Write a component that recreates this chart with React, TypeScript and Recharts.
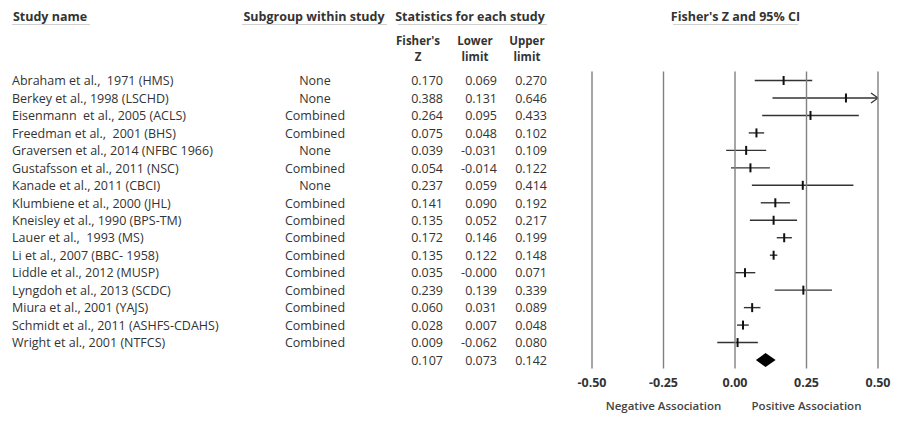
import React from 'react';
import { ComposedChart, Bar, XAxis, YAxis, ReferenceLine } from 'recharts';

const studyNames = [
  'Abraham et al.,  1971 (HMS)',
  'Berkey et al., 1998 (LSCHD)',
  'Eisenmann  et al., 2005 (ACLS)',
  'Freedman et al.,  2001 (BHS)',
  'Graversen et al., 2014 (NFBC 1966)',
  'Gustafsson et al., 2011 (NSC)',
  'Kanade et al., 2011 (CBCI)',
  'Klumbiene et al., 2000 (JHL)',
  'Kneisley et al., 1990 (BPS-TM)',
  'Lauer et al.,  1993 (MS)',
  'Li et al., 2007 (BBC- 1958)',
  'Liddle et al., 2012 (MUSP)',
  'Lyngdoh et al., 2013 (SCDC)',
  'Miura et al., 2001 (YAJS)',
  'Schmidt et al., 2011 (ASHFS-CDAHS)',
  'Wright et al., 2001 (NTFCS)',
];

const subgroups = [
  'None', 'None', 'Combined', 'Combined', 'None', 'Combined', 'None', 'Combined',
  'Combined', 'Combined', 'Combined', 'Combined', 'Combined', 'Combined', 'Combined', 'Combined',
];

const fisherZ = [0.170, 0.388, 0.264, 0.075, 0.039, 0.054, 0.237, 0.141, 0.135, 0.172, 0.135, 0.035, 0.239, 0.060, 0.028, 0.009];
const lowerLimits = [0.069, 0.131, 0.095, 0.048, -0.031, -0.014, 0.059, 0.090, 0.052, 0.146, 0.122, -0.000, 0.139, 0.031, 0.007, -0.062];
const upperLimits = [0.270, 0.646, 0.433, 0.102, 0.109, 0.122, 0.414, 0.192, 0.217, 0.199, 0.148, 0.071, 0.339, 0.089, 0.048, 0.080];

// pooled estimate: z, lower, upper
const summaryStats = [0.107, 0.073, 0.142];

const xTicks = [-0.5, -0.25, 0, 0.25, 0.5];
const xDomain: [number, number] = [-0.5, 0.5];

const fmt = (v: number) => (v === 0 && 1 / v < 0 ? '-0.000' : v.toFixed(3));

const rows = [
  ...studyNames.map((name, i) => ({
    key: `r${i}`,
    name,
    subgroup: subgroups[i],
    z: fisherZ[i],
    lower: lowerLimits[i],
    upper: upperLimits[i],
    range: [Math.max(lowerLimits[i], xDomain[0]), Math.min(upperLimits[i], xDomain[1])],
    clipRight: upperLimits[i] > xDomain[1],
    isSummary: false,
  })),
  {
    key: 'summary',
    name: '',
    subgroup: '',
    z: summaryStats[0],
    lower: summaryStats[1],
    upper: summaryStats[2],
    range: [summaryStats[1], summaryStats[2]],
    clipRight: false,
    isSummary: true,
  },
];

const FONT = '"Open Sans", sans-serif';
const textProps = { fontFamily: FONT, fontSize: 12.5, fill: '#333', xmlSpace: 'preserve', style: { whiteSpace: 'pre' } } as any;

const ForestMark = (props: any) => {
  const { x, y, width, height, payload } = props;
  const cy = y + height / 2;
  const [lo, hi] = payload.range;
  const px = x + (width * (payload.z - lo)) / (hi - lo);
  if (payload.isSummary) {
    return (
      <polygon
        points={`${x},${cy} ${px},${cy - 7} ${x + width},${cy} ${px},${cy + 7}`}
        fill="#000"
      />
    );
  }
  const right = x + width;
  return (
    <g>
      <line x1={x} x2={right} y1={cy} y2={cy} stroke="#333" strokeWidth={1.4} />
      <line x1={px} x2={px} y1={cy - 4.5} y2={cy + 4.5} stroke="#111" strokeWidth={2} />
      {payload.clipRight && (
        <polyline
          points={`${right - 7},${cy - 5} ${right},${cy} ${right - 7},${cy + 5}`}
          fill="none"
          stroke="#333"
          strokeWidth={1.2}
        />
      )}
    </g>
  );
};

const RowTick = (props: any) => {
  const { y, payload } = props;
  const row = rows.find((r) => r.key === payload.value);
  if (!row) return null;
  return (
    <g>
      <text x={12} y={y} dy={5} {...textProps}>{row.name}</text>
      <text x={315} y={y} dy={5} textAnchor="middle" {...textProps}>{row.subgroup}</text>
      <text x={443} y={y} dy={5} textAnchor="end" {...textProps}>{fmt(row.z)}</text>
      <text x={497} y={y} dy={5} textAnchor="end" {...textProps}>{fmt(row.lower)}</text>
      <text x={547} y={y} dy={5} textAnchor="end" {...textProps}>{fmt(row.upper)}</text>
    </g>
  );
};

const AxisTick = (props: any) => {
  const { x, y, payload } = props;
  const v = payload.value as number;
  const assoc = v === -0.25 ? 'Negative Association' : v === 0.25 ? 'Positive Association' : null;
  return (
    <g>
      <text x={x} y={y} dy={10} textAnchor="middle" fontFamily={FONT} fontSize={12.5} fontWeight={700} fill="#333">
        {v.toFixed(2)}
      </text>
      {assoc && (
        <text x={x} y={y} dy={33} textAnchor="middle" fontFamily={FONT} fontSize={11.5} fontWeight={600} fill="#444">
          {assoc}
        </text>
      )}
    </g>
  );
};

const headerStyle: React.CSSProperties = {
  position: 'absolute',
  fontFamily: FONT,
  fontSize: 12.5,
  fontWeight: 700,
  color: '#333',
  whiteSpace: 'nowrap',
  lineHeight: '17px',
  textAlign: 'center',
  transform: 'translateX(-50%)',
};

const subHeaderStyle: React.CSSProperties = { ...headerStyle, fontSize: 11.5, lineHeight: '16px' };

const Header = ({ text, cx, top, underline }: { text: string; cx: number; top: number; underline?: [number, number] }) => (
  <>
    <div style={{ ...headerStyle, left: cx, top }}>{text}</div>
    {underline && (
      <div
        style={{
          position: 'absolute',
          left: underline[0],
          top: top + 16,
          width: underline[1] - underline[0],
          height: 0,
          borderTop: '1px solid #d0d0d0',
        }}
      />
    )}
  </>
);

const SubHeader = ({ top, bottom, cx }: { top: string; bottom: string; cx: number }) => (
  <>
    <div style={{ ...subHeaderStyle, left: cx, top: 33 }}>{top}</div>
    <div style={{ ...subHeaderStyle, left: cx, top: 49 }}>{bottom}</div>
  </>
);

export default function App() {
  return (
    <div style={{ position: 'absolute', left: 0, top: 0, width: 909, height: 428, background: '#fff' }}>
      <ComposedChart
        width={909}
        height={428}
        data={rows}
        layout="vertical"
        margin={{ top: 71.5, right: 31, bottom: 0, left: 0 }}
      >
        <XAxis
          type="number"
          domain={xDomain}
          ticks={xTicks}
          allowDataOverflow
          axisLine={false}
          tickLine={false}
          height={59.5}
          tick={<AxisTick />}
        />
        <YAxis
          type="category"
          dataKey="key"
          width={592}
          axisLine={false}
          tickLine={false}
          interval={0}
          tick={<RowTick />}
        />
        {xTicks.map((t) => (
          <ReferenceLine key={t} x={t} stroke="#808080" strokeWidth={1.4} />
        ))}
        <Bar dataKey="range" barSize={10} shape={<ForestMark />} isAnimationActive={false} />
      </ComposedChart>

      <Header text="Study name" cx={50} top={8} underline={[12, 90]} />
      <Header text="Subgroup within study" cx={314} top={8} underline={[242, 387]} />
      <Header text="Statistics for each study" cx={470} top={8} underline={[398, 547]} />
      <Header text="Fisher's Z and 95% CI" cx={735.5} top={8} underline={[673, 798]} />
      <SubHeader top="Fisher's" bottom="Z" cx={418} />
      <SubHeader top="Lower" bottom="limit" cx={475} />
      <SubHeader top="Upper" bottom="limit" cx={527} />
    </div>
  );
}
